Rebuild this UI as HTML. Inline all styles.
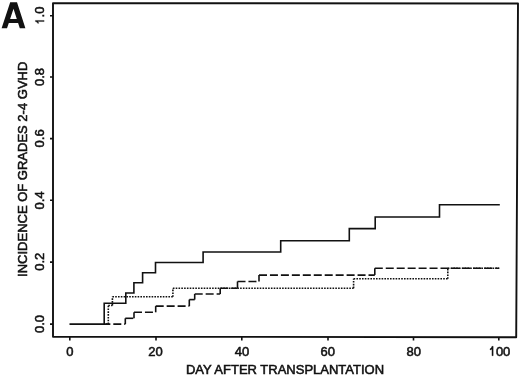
<!DOCTYPE html>
<html><head><meta charset="utf-8">
<style>
html,body{margin:0;padding:0;background:#fff;}
body{width:520px;height:376px;overflow:hidden;}
svg{display:block;will-change:transform;}
text{font-family:"Liberation Sans",sans-serif;fill:#111;stroke:#111;stroke-width:0.55px;}
</style></head>
<body>
<svg width="520" height="376" viewBox="0 0 520 376">
<rect width="520" height="376" fill="#fff"/>
<!-- panel label -->
<path fill="#111" fill-rule="evenodd" d="M10.2,2.2 L17.0,2.2 L25.4,28.3 L19.8,28.3 L18.1,23.0 L8.8,23.0 L7.0,28.3 L1.6,28.3 Z M13.5,8.7 L10.1,19.0 L16.8,19.0 Z"/>
<!-- frame -->
<path d="M53,3.1 L518,3.5 L516.2,337.2 L53,336.7 Z" fill="none" stroke="#111" stroke-width="1.9" stroke-linejoin="round"/>
<!-- y ticks -->
<g stroke="#111" stroke-width="1.6">
<path d="M50,15.8H53 M50,77H53 M50,138.6H53 M50,200.2H53 M50,262.1H53 M50,324.1H53"/>
<path d="M69.8,337V340.6 M156,337V340.6 M241.8,337V340.6 M328,337V340.6 M413.5,337V340.6 M498.8,337V340.6"/>
</g>
<!-- y tick labels -->
<g font-size="13" text-anchor="middle">
<path fill="#111" stroke="#111" stroke-width="0.35" transform="translate(44.4,15.6) rotate(-90) translate(-9.035,-0.3) scale(0.93)" d="M3.3,-9.35 L4.5,-9.35 L4.5,0 L3.3,0 L3.3,-6.8 Q2.7,-6.0 1.4,-5.8 L1.4,-6.9 Q3.0,-7.4 3.3,-9.35 Z"/>
<text transform="translate(44.4,15.6) rotate(-90)" x="-1.807" text-anchor="start">.0</text>
<text transform="translate(44.4,77) rotate(-90)">0.8</text>
<text transform="translate(44.4,138.4) rotate(-90)">0.6</text>
<text transform="translate(44.4,200.4) rotate(-90)">0.4</text>
<text transform="translate(44.4,261.7) rotate(-90)">0.2</text>
<text transform="translate(44.4,324) rotate(-90)">0.0</text>
</g>
<!-- x tick labels -->
<g font-size="13" text-anchor="middle">
<text x="69.8" y="355.7">0</text>
<text x="155.6" y="355.7">20</text>
<text x="241.9" y="355.7">40</text>
<text x="327.8" y="355.7">60</text>
<text x="413.8" y="355.7">80</text>
<path fill="#111" stroke="#111" stroke-width="0.35" transform="translate(488.66,355.7)" d="M3.3,-9.35 L4.5,-9.35 L4.5,0 L3.3,0 L3.3,-6.8 Q2.7,-6.0 1.4,-5.8 L1.4,-6.9 Q3.0,-7.4 3.3,-9.35 Z"/>
<text x="495.89" y="355.7" text-anchor="start">00</text>
</g>
<!-- axis titles -->
<text x="285" y="373.8" font-size="13" text-anchor="middle">DAY AFTER TRANSPLANTATION</text>
<text transform="translate(26.6,169.3) rotate(-90)" font-size="13" text-anchor="middle">INCIDENCE OF GRADES 2-4 GVHD</text>
<!-- curves -->
<g fill="none" stroke="#111" stroke-width="1.6" stroke-linecap="butt" stroke-linejoin="miter">
<path d="M69.5,324.1 L104.2,324.1 L104.2,303.3 L125.8,303.3 L125.8,293.0 L133.9,293.0 L133.9,282.8 L142.6,282.8 L142.6,272.8 L155.5,272.8 L155.5,262.5 L203.1,262.5 L203.1,252.0 L280.7,252.0 L280.7,240.7 L349.3,240.7 L349.3,228.6 L375.2,228.6 L375.2,217.0 L439.5,217.0 L439.5,204.8 L499.8,204.8"/>
</g>
<g fill="none" stroke="#111" stroke-width="1.6" stroke-dasharray="1.6 1.2" stroke-linecap="butt">
<path stroke-dashoffset="34.7" d="M104.2,324.1 L108.3,324.1"/>
<path d="M108.3,324.1 L108.3,305.5"/>
<path d="M108.3,305.5 L112.4,305.5"/>
<path d="M112.4,305.5 L112.4,296.8"/>
<path d="M112.4,296.8 L172.9,296.8"/>
<path d="M172.9,296.8 L172.9,288.2"/>
<path d="M172.9,288.2 L353.6,288.2"/>
<path d="M353.6,288.2 L353.6,278.8"/>
<path d="M353.6,278.8 L447.8,278.8"/>
<path d="M447.8,278.8 L447.8,268.3"/>
<path d="M447.8,268.3 L499.2,268.3"/>
</g>
<g fill="none" stroke="#111" stroke-width="1.6" stroke-dasharray="8.0 2.95" stroke-linecap="butt">
<path stroke-dashoffset="34.7" d="M104.2,324.1 L125.3,324.1"/>
<path d="M125.3,324.1 L125.3,318.3"/>
<path d="M125.3,318.3 L134.0,318.3"/>
<path d="M134.0,318.3 L134.0,312.3"/>
<path d="M134.0,312.3 L155.7,312.3"/>
<path d="M155.7,312.3 L155.7,306.1"/>
<path d="M155.7,306.1 L189.3,306.1"/>
<path d="M189.3,306.1 L189.3,299.6"/>
<path d="M189.3,299.6 L194.7,299.6"/>
<path d="M194.7,299.6 L194.7,294.0"/>
<path d="M194.7,294.0 L220.2,294.0"/>
<path d="M220.2,294.0 L220.2,288.2"/>
<path d="M220.2,288.2 L237.5,288.2"/>
<path d="M237.5,288.2 L237.5,281.5"/>
<path d="M237.5,281.5 L259.0,281.5"/>
<path d="M259.0,281.5 L259.0,275.1"/>
<path d="M259.0,275.1 L374.8,275.1"/>
<path d="M374.8,275.1 L374.8,268.2"/>
<path d="M374.8,268.2 L499.2,268.2"/>
</g>
</svg>
</body></html>
